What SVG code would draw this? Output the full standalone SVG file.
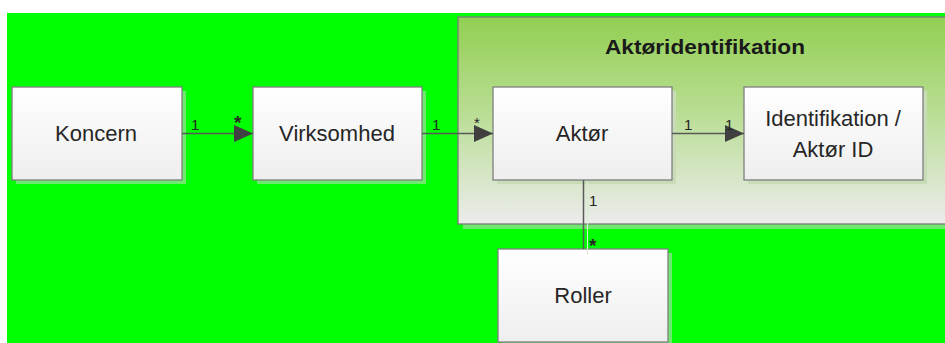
<svg xmlns="http://www.w3.org/2000/svg" width="945" height="343" viewBox="0 0 945 343">
<defs>
<linearGradient id="cont" x1="0" y1="0" x2="0" y2="1">
<stop offset="0" stop-color="#92cf52"/>
<stop offset="0.45" stop-color="#b8dd92"/>
<stop offset="1" stop-color="#ececec"/>
</linearGradient>
<linearGradient id="box" x1="0" y1="0" x2="0" y2="1">
<stop offset="0" stop-color="#ffffff"/>
<stop offset="1" stop-color="#eeeeee"/>
</linearGradient>
<marker id="arr" markerWidth="20" markerHeight="18" refX="19" refY="8.5" orient="auto" markerUnits="userSpaceOnUse">
<path d="M0,0 L19,8.5 L0,17 Z" fill="#404040"/>
</marker>
<style>
.shadow{fill:#6ee86e;}
.node{fill:url(#box);stroke:#7f7f7f;stroke-width:1.3;}
.lbl{font-family:"Liberation Sans",Arial,sans-serif;font-size:22px;fill:#262626;text-anchor:middle;}
.mult{font-family:"Liberation Sans",Arial,sans-serif;font-size:15px;fill:#262626;}
.star{font-family:"Liberation Sans",Arial,sans-serif;font-size:19px;font-weight:bold;fill:#262626;}
.conn{stroke:#595959;stroke-width:1.5;fill:none;}
</style>
</defs>
<rect x="7" y="13" width="938" height="330" fill="#00ff00"/>
<g id="aktoridentifikation">
<rect x="463" y="22" width="490" height="207" fill="#6ee86e"/>
<rect x="458" y="17" width="495" height="207" fill="url(#cont)" stroke="#7a7a7a" stroke-width="1.3"/>
<text x="705" y="54" font-family="Liberation Sans, Arial, sans-serif" font-size="20" font-weight="bold" fill="#1a1a1a" text-anchor="middle" textLength="200" lengthAdjust="spacingAndGlyphs">Aktøridentifikation</text>
</g>
<g id="koncern">
<rect class="shadow" x="16" y="91" width="170" height="93"/>
<rect class="node" x="12" y="87" width="170" height="93"/>
<text class="lbl" x="96" y="141">Koncern</text>
</g>
<g id="virksomhed">
<rect class="shadow" x="257" y="91" width="169" height="93"/>
<rect class="node" x="253" y="87" width="169" height="93"/>
<text class="lbl" x="337" y="141">Virksomhed</text>
</g>
<g id="aktor">
<rect x="497" y="91" width="179" height="93" fill="#c8dcb8"/>
<rect class="node" x="493" y="87" width="179" height="93"/>
<text class="lbl" x="582" y="141">Aktør</text>
</g>
<g id="identifikation">
<rect x="748" y="91" width="179" height="93" fill="#c8dcb8"/>
<rect class="node" x="744" y="87" width="179" height="93"/>
<text class="lbl" x="833" y="126">Identifikation /</text>
<text class="lbl" x="833" y="157">Aktør ID</text>
</g>
<g id="roller">
<rect class="shadow" x="502" y="253" width="170" height="93"/>
<rect class="node" x="498" y="249" width="170" height="93"/>
<text class="lbl" x="583" y="303">Roller</text>
</g>
<g id="connectors">
<line class="conn" x1="182" y1="133.5" x2="253" y2="133.5" marker-end="url(#arr)"/>
<line class="conn" x1="422" y1="133.5" x2="493" y2="133.5" marker-end="url(#arr)"/>
<line class="conn" x1="672" y1="133.5" x2="744" y2="133.5" marker-end="url(#arr)"/>
<line x1="587.5" y1="181" x2="587.5" y2="255" stroke="#d8ecd0" stroke-width="1"/>
<line class="conn" x1="583.5" y1="180" x2="583.5" y2="249" stroke="#808080"/>
<text class="mult" x="191" y="130">1</text>
<text class="star" x="234" y="129">*</text>
<text class="mult" x="432" y="130">1</text>
<text class="mult" x="474" y="128" font-size="14">*</text>
<text class="mult" x="684" y="130">1</text>
<text class="mult" x="725" y="130">1</text>
<text class="mult" x="589" y="206">1</text>
<text class="star" x="589" y="252">*</text>
</g>
</svg>
